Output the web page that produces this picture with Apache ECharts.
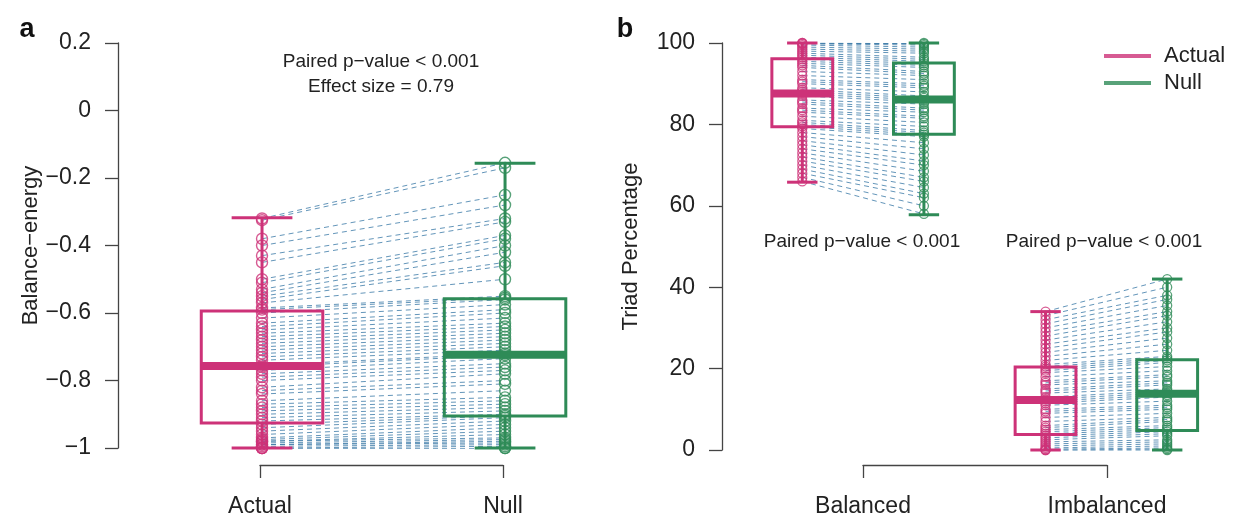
<!DOCTYPE html>
<html>
<head>
<meta charset="utf-8">
<script src="https://cdn.jsdelivr.net/npm/echarts@6/dist/echarts.min.js"></script>
<style>
  html, body { margin: 0; background: #fff; }
  #chart { width: 1236px; height: 518px; }
</style>
</head>
<body>
<div id="chart"></div>
<script>
// ---- panel a : balance-energy ----
const groupsA = ["Actual", "Null"];
const tickLabelsA = ["\u22121", "\u22120.8", "\u22120.6", "\u22120.4", "\u22120.2", "0", "0.2"];
const balanceActual = [
  -1, -1, -1, -0.995, -0.99, -0.99, -0.985, -0.98, -0.98, -0.975, -0.97, -0.96,
  -0.95, -0.94, -0.93, -0.92, -0.91, -0.9, -0.89, -0.88, -0.87, -0.86, -0.84, -0.83,
  -0.82, -0.8, -0.79, -0.78, -0.77, -0.76, -0.755, -0.74, -0.73, -0.72, -0.71, -0.7,
  -0.69, -0.68, -0.67, -0.66, -0.65, -0.64, -0.63, -0.615, -0.6, -0.59, -0.585, -0.57,
  -0.56, -0.55, -0.54, -0.53, -0.51, -0.5, -0.45, -0.43, -0.4, -0.38, -0.325, -0.32
];
const balanceNull = [
  -1, -1, -0.995, -0.99, -0.985, -0.98, -0.975, -0.97, -0.96, -0.95, -0.94, -0.93,
  -0.92, -0.91, -0.905, -0.9, -0.89, -0.88, -0.87, -0.86, -0.85, -0.83, -0.81, -0.8,
  -0.78, -0.77, -0.76, -0.75, -0.735, -0.725, -0.72, -0.71, -0.7, -0.69, -0.68, -0.67,
  -0.66, -0.65, -0.64, -0.63, -0.615, -0.6, -0.59, -0.575, -0.56, -0.555, -0.55, -0.5,
  -0.46, -0.45, -0.42, -0.4, -0.38, -0.37, -0.33, -0.32, -0.28, -0.25, -0.17, -0.155
];
// [min, Q1, median, Q3, max]
const actualBoxA = [-1, -0.926, -0.757, -0.594, -0.318];
const nullBoxA = [-1, -0.905, -0.724, -0.558, -0.156];

// ---- panel b : triad percentage ----
const triadGroups = ["Balanced", "Imbalanced"];
const tickLabelsB = ["0", "20", "40", "60", "80", "100"];
const balancedActual = [
  100, 100, 99.8, 99.5, 99, 98.5, 98, 97.5, 97, 96.5, 96, 95.5, 95, 94.5, 94, 93, 92,
  91, 90.5, 90, 89, 88.5, 88, 87.5, 87, 86, 85.5, 85, 84, 83.5, 83, 82, 81, 80.5, 80,
  79.5, 79, 78, 77, 76, 75, 74, 73, 72, 71, 70, 69, 68, 67, 66
];
const balancedNull = [
  100, 99.8, 99.5, 99, 98.5, 98, 97.5, 96.5, 96, 95.5, 95, 94.5, 94, 93, 92.5, 92, 91,
  90, 89.5, 89, 88, 87, 86.5, 86, 85.5, 85, 84, 83.5, 83, 82, 81.5, 80.5, 79.5, 78.5, 78,
  77.5, 77, 75.5, 74, 72.5, 71, 70, 68.5, 67, 66, 64.5, 63, 62, 60, 58
];
const imbalancedActual = [
  0, 0, 0.2, 0.5, 1, 1.5, 2, 2.5, 3, 3.5, 4, 4.5, 5, 5.5, 6, 7, 8, 9, 9.5, 10, 11,
  11.5, 12, 12.5, 13, 14, 14.5, 15, 16, 16.5, 17, 18, 19, 19.5, 20, 20.5, 21, 22, 23,
  24, 25, 26, 27, 28, 29, 30, 31, 32, 33, 34
];
const imbalancedNull = [
  0, 0.2, 0.5, 1, 1.5, 2, 2.5, 3.5, 4, 4.5, 5, 5.5, 6, 7, 7.5, 8, 9, 10, 10.5, 11, 12,
  13, 13.5, 14, 14.5, 15, 16, 16.5, 17, 18, 18.5, 19.5, 20.5, 21.5, 22, 22.5, 23, 24.5,
  26, 27.5, 29, 30, 31.5, 33, 34, 35.5, 37, 38, 40, 42
];
const balancedActualBox = [65.8, 79.4, 87.6, 96.1, 100];
const balancedNullBox = [57.8, 77.6, 86.1, 95.1, 100];
const imbalancedActualBox = [0, 3.8, 12.3, 20.4, 34];
const imbalancedNullBox = [0, 4.8, 13.8, 22.2, 42];

const pink = "#CD3278";
const green = "#2E8B57";
const pairColor = "rgba(60,122,168,0.8)";
const axisColor = "#444";
const font = "'Liberation Sans', Arial, Helvetica, sans-serif";

// box drawn R style: rect, thick median, whiskers and caps
function renderBox(params, api) {
  const x = api.value(0);
  const lo = api.coord([x, api.value(1)]);
  const q1 = api.coord([x, api.value(2)]);
  const md = api.coord([x, api.value(3)]);
  const q3 = api.coord([x, api.value(4)]);
  const hi = api.coord([x, api.value(5)]);
  const bw = api.size([0.5, 0])[0];
  const cw = bw / 4;
  const color = api.visual("color");
  const st = { stroke: color, lineWidth: 3, fill: null };
  return {
    type: "group",
    children: [
      { type: "line", shape: { x1: hi[0], y1: hi[1], x2: q3[0], y2: q3[1] }, style: st },
      { type: "line", shape: { x1: lo[0], y1: lo[1], x2: q1[0], y2: q1[1] }, style: st },
      { type: "line", shape: { x1: hi[0] - cw, y1: hi[1], x2: hi[0] + cw, y2: hi[1] }, style: st },
      { type: "line", shape: { x1: lo[0] - cw, y1: lo[1], x2: lo[0] + cw, y2: lo[1] }, style: st },
      { type: "rect", shape: { x: q3[0] - bw / 2, y: q3[1], width: bw, height: q1[1] - q3[1] }, style: st },
      { type: "line", shape: { x1: md[0] - bw / 2, y1: md[1], x2: md[0] + bw / 2, y2: md[1] },
        style: { stroke: color, lineWidth: 8 } }
    ]
  };
}

function pairs(xa, xb, va, vb) {
  return va.map((v, i) => ({ coords: [[xa, v], [xb, vb[i]]] }));
}
function points(x, vals) {
  return vals.map(v => [x, v]);
}

const chart = echarts.init(document.getElementById("chart"), null, { renderer: "canvas" });

const yAxisBase = {
  axisLine: { show: true, lineStyle: { color: axisColor, width: 1.3 } },
  axisTick: { show: true, length: 13, lineStyle: { color: axisColor, width: 1.3 } },
  splitLine: { show: false },
  nameLocation: "middle",
  nameRotate: 90,
  nameTextStyle: { fontSize: 22, color: "#222", fontFamily: font }
};
const bracketAxis = {
  type: "value", min: 0, max: 1, interval: 1, position: "bottom",
  axisLine: { show: true, lineStyle: { color: axisColor, width: 1.3 } },
  axisTick: { show: true, length: 13, lineStyle: { color: axisColor, width: 1.3 } },
  splitLine: { show: false }
};

const option = {
  animation: false,
  backgroundColor: "#fff",
  textStyle: { fontFamily: font },
  grid: [
    { left: 118, width: 528, top: 43, height: 405 },   // a
    { left: 722, width: 506, top: 43, height: 407 },   // b
    { left: 260, width: 243, top: 400, height: 65 },   // a bracket
    { left: 863, width: 244, top: 400, height: 67 }    // b bracket
  ],
  xAxis: [
    { gridIndex: 0, type: "value", min: 0.4115 - 1 / 243, max: 2.58, show: false },
    { gridIndex: 1, type: "value", min: 0.34, max: 4.5, show: false },
    Object.assign({ gridIndex: 2 }, bracketAxis, {
      axisLabel: { margin: 30, fontSize: 23, color: "#222", formatter: v => groupsA[v] }
    }),
    Object.assign({ gridIndex: 3 }, bracketAxis, {
      axisLabel: { margin: 30, fontSize: 23, color: "#222", formatter: v => triadGroups[v] }
    })
  ],
  yAxis: [
    Object.assign({ gridIndex: 0, type: "value", min: -1, max: 0.2, interval: 0.2,
      name: "Balance\u2212energy", nameGap: 76,
      axisLabel: { margin: 27, fontSize: 23, color: "#222", formatter: (v, i) => tickLabelsA[i] } }, yAxisBase),
    Object.assign({ gridIndex: 1, type: "value", min: 0, max: 100, interval: 20,
      name: "Triad Percentage", nameGap: 80,
      axisLabel: { margin: 27, fontSize: 23, color: "#222", formatter: (v, i) => tickLabelsB[i] } }, yAxisBase),
    { gridIndex: 2, type: "value", show: false },
    { gridIndex: 3, type: "value", show: false }
  ],
  legend: {
    left: 1104, top: 45, orient: "vertical", padding: 0, itemGap: 5,
    itemWidth: 47, itemHeight: 4, selectedMode: false,
    textStyle: { fontSize: 22, color: "#222", fontFamily: font, padding: [0, 0, 0, 8] },
    data: [
      { name: "Actual", icon: "rect", itemStyle: { color: pink, borderWidth: 0 } },
      { name: "Null", icon: "rect", itemStyle: { color: green, borderWidth: 0 } }
    ]
  },
  graphic: [
    { type: "text", x: 27, y: 30, style: { text: "a", font: "bold 27px " + font, fill: "#111", align: "center", verticalAlign: "middle" } },
    { type: "text", x: 625, y: 30, style: { text: "b", font: "bold 27px " + font, fill: "#111", align: "center", verticalAlign: "middle" } },
    { type: "text", x: 381, y: 62, style: { text: "Paired p\u2212value < 0.001", font: "19px " + font, fill: "#222", align: "center", verticalAlign: "middle" } },
    { type: "text", x: 381, y: 87, style: { text: "Effect size = 0.79", font: "19px " + font, fill: "#222", align: "center", verticalAlign: "middle" } },
    { type: "text", x: 862, y: 242, style: { text: "Paired p\u2212value < 0.001", font: "19px " + font, fill: "#222", align: "center", verticalAlign: "middle" } },
    { type: "text", x: 1104, y: 242, style: { text: "Paired p\u2212value < 0.001", font: "19px " + font, fill: "#222", align: "center", verticalAlign: "middle" } }
  ],
  series: [
    // panel a
    { type: "lines", coordinateSystem: "cartesian2d", xAxisIndex: 0, yAxisIndex: 0, silent: true, z: 1,
      lineStyle: { color: pairColor, width: 1, type: [5, 4], opacity: 1 },
      data: pairs(1, 2, balanceActual, balanceNull) },
    { name: "Actual", type: "scatter", xAxisIndex: 0, yAxisIndex: 0, symbolSize: 11, z: 2, silent: true,
      itemStyle: { color: "rgba(0,0,0,0)", borderColor: pink, borderWidth: 1.4 },
      data: points(1, balanceActual) },
    { name: "Null", type: "scatter", xAxisIndex: 0, yAxisIndex: 0, symbolSize: 11, z: 2, silent: true,
      itemStyle: { color: "rgba(0,0,0,0)", borderColor: green, borderWidth: 1.4 },
      data: points(2, balanceNull) },
    { name: "Actual", type: "custom", xAxisIndex: 0, yAxisIndex: 0, z: 3, silent: true, clip: false,
      itemStyle: { color: pink }, renderItem: renderBox, data: [[1, ...actualBoxA]] },
    { name: "Null", type: "custom", xAxisIndex: 0, yAxisIndex: 0, z: 3, silent: true, clip: false,
      itemStyle: { color: green }, renderItem: renderBox, data: [[2, ...nullBoxA]] },
    // panel b
    { type: "lines", coordinateSystem: "cartesian2d", xAxisIndex: 1, yAxisIndex: 1, silent: true, z: 1,
      lineStyle: { color: pairColor, width: 1, type: [5, 4], opacity: 1 },
      data: pairs(1, 2, balancedActual, balancedNull).concat(pairs(3, 4, imbalancedActual, imbalancedNull)) },
    { name: "Actual", type: "scatter", xAxisIndex: 1, yAxisIndex: 1, symbolSize: 9, z: 2, silent: true,
      itemStyle: { color: "rgba(0,0,0,0)", borderColor: pink, borderWidth: 1.3 },
      data: points(1, balancedActual).concat(points(3, imbalancedActual)) },
    { name: "Null", type: "scatter", xAxisIndex: 1, yAxisIndex: 1, symbolSize: 9, z: 2, silent: true,
      itemStyle: { color: "rgba(0,0,0,0)", borderColor: green, borderWidth: 1.3 },
      data: points(2, balancedNull).concat(points(4, imbalancedNull)) },
    { name: "Actual", type: "custom", xAxisIndex: 1, yAxisIndex: 1, z: 3, silent: true, clip: false,
      itemStyle: { color: pink }, renderItem: renderBox,
      data: [[1, ...balancedActualBox], [3, ...imbalancedActualBox]] },
    { name: "Null", type: "custom", xAxisIndex: 1, yAxisIndex: 1, z: 3, silent: true, clip: false,
      itemStyle: { color: green }, renderItem: renderBox,
      data: [[2, ...balancedNullBox], [4, ...imbalancedNullBox]] }
  ]
};

chart.setOption(option);
window.addEventListener("resize", () => chart.resize());
</script>
</body>
</html>
